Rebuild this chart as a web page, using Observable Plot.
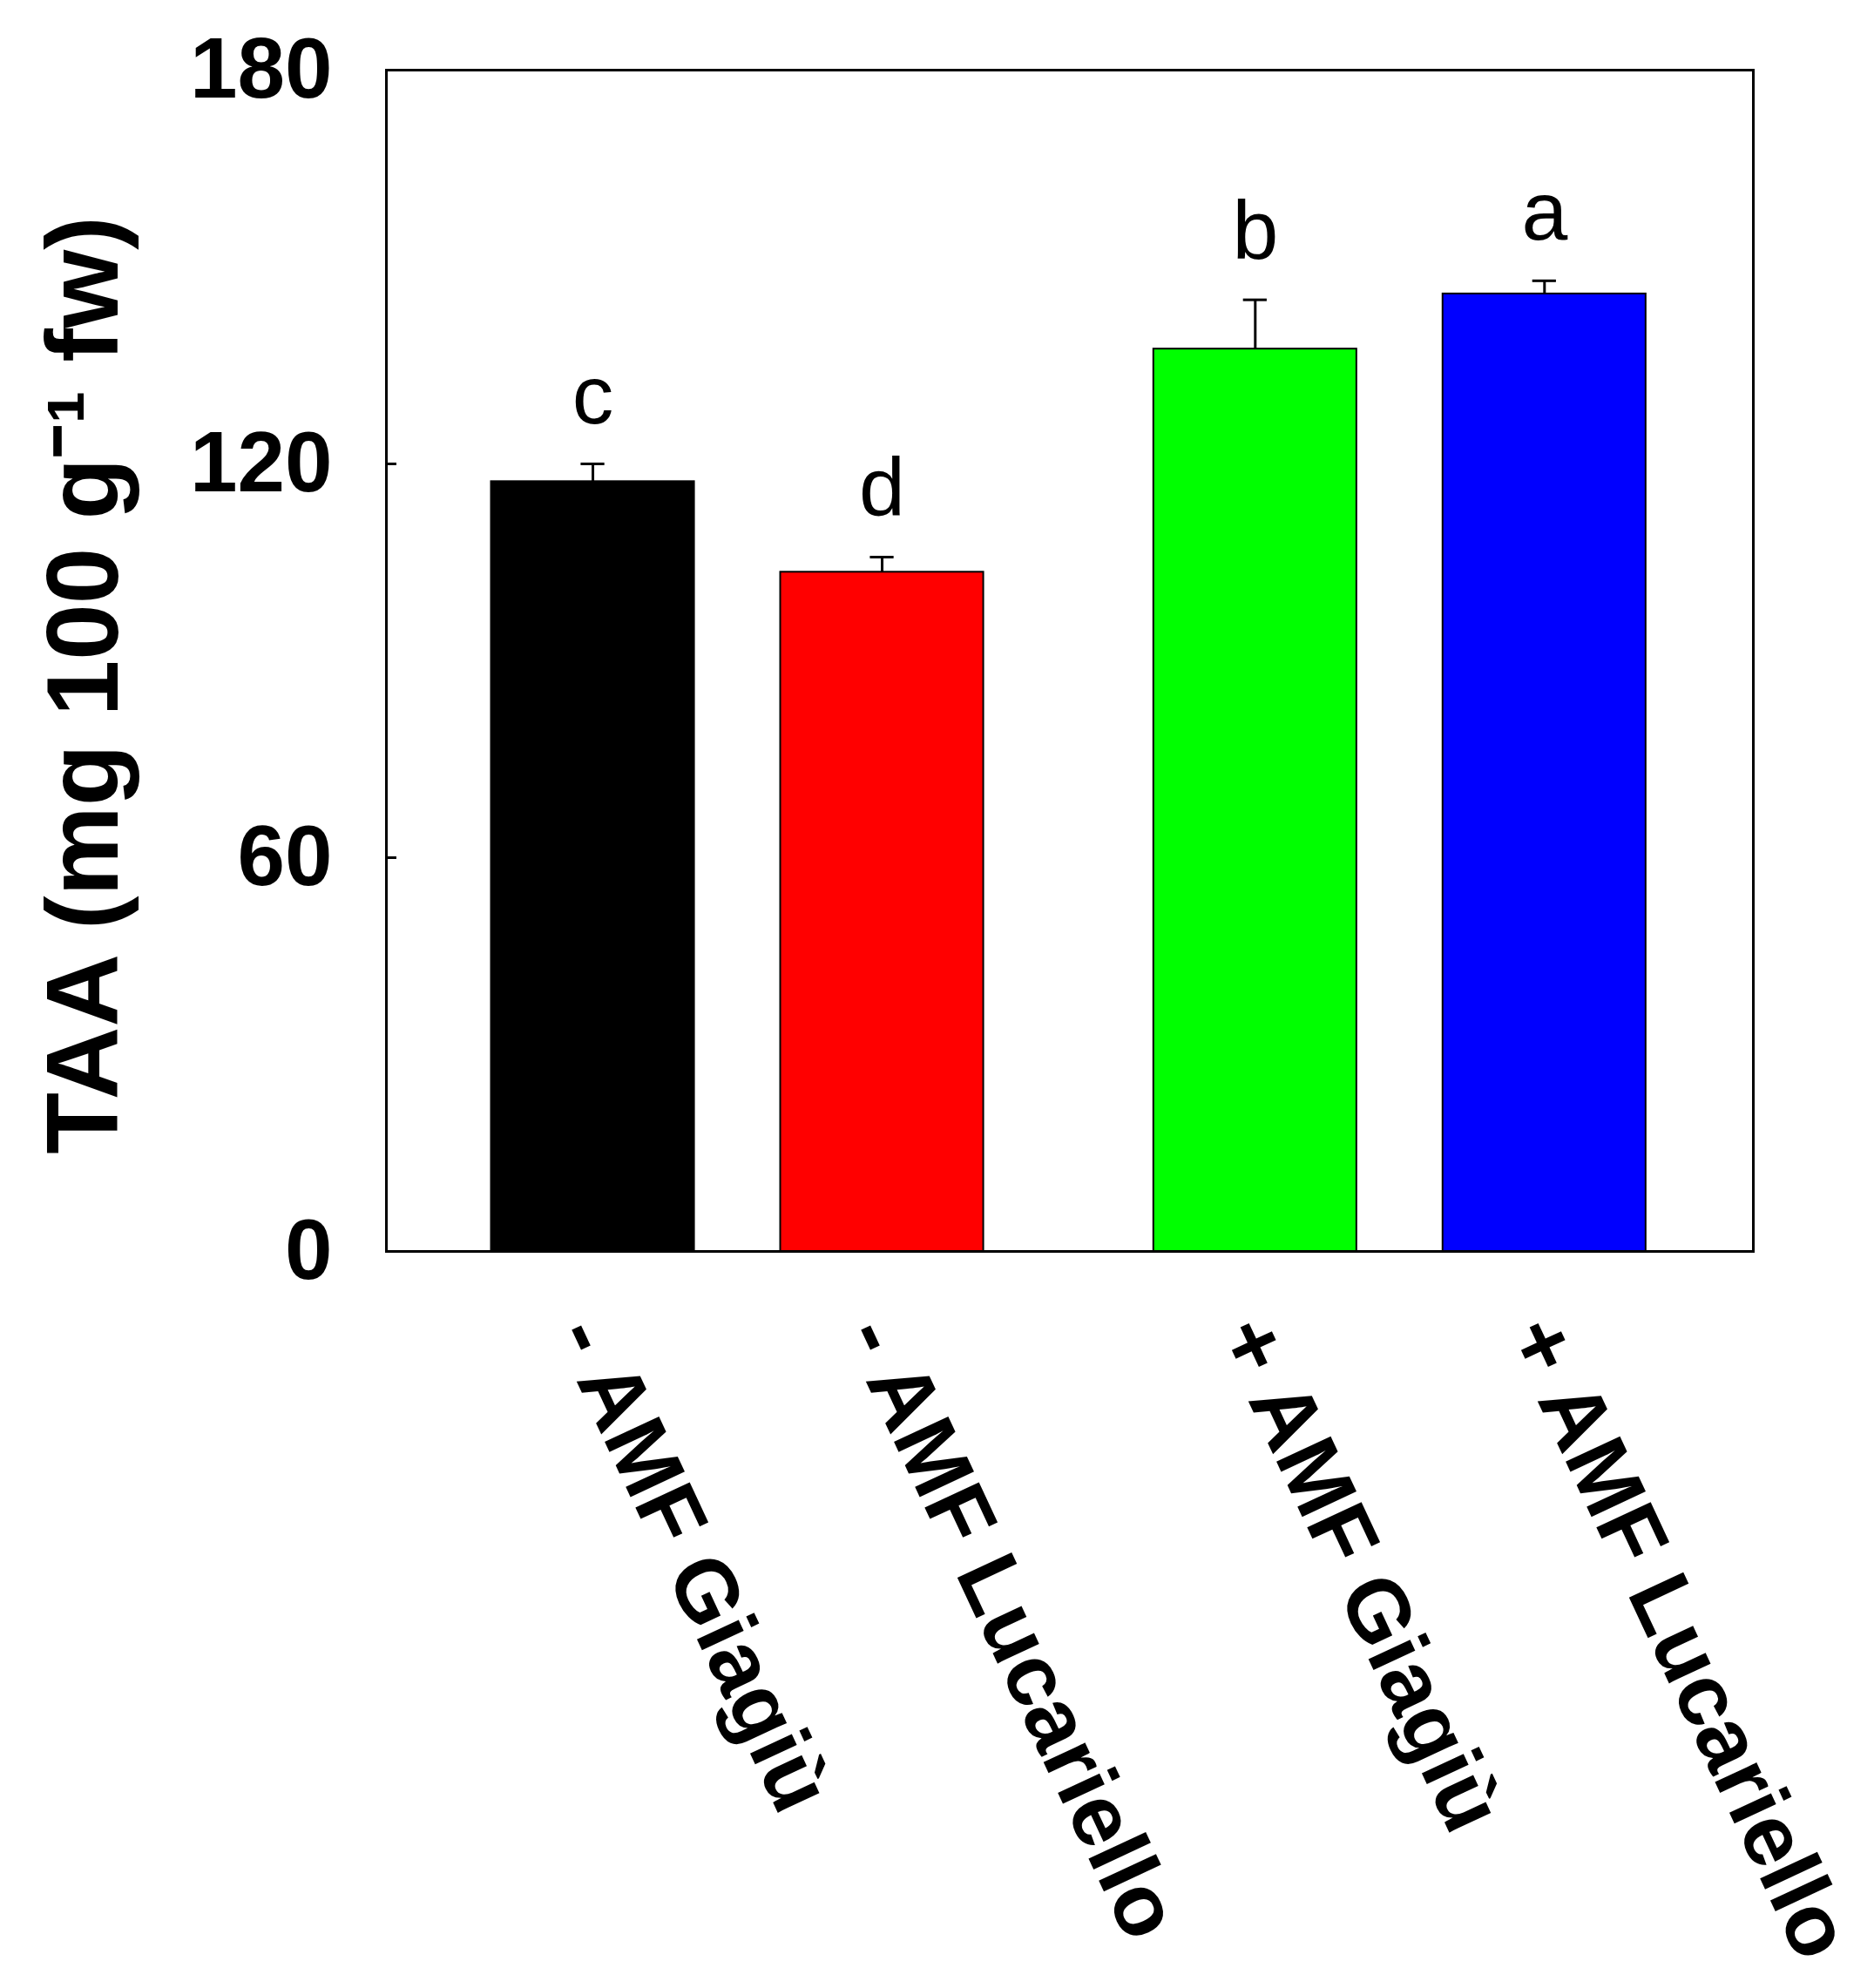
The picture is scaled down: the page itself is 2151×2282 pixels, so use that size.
<!DOCTYPE html>
<html>
<head>
<meta charset="utf-8">
<script src="https://cdn.jsdelivr.net/npm/d3@7"></script>
<script src="https://cdn.jsdelivr.net/npm/@observablehq/plot@0.6"></script>
<style>
  html, body { margin: 0; padding: 0; background: #fff; }
  #chart { width: 2151px; height: 2282px; }
</style>
</head>
<body>
<div id="chart"></div>
<script>
// ---- data ----
const amf = ["- AMF", "- AMF", "+ AMF", "+ AMF"];
const cultivars = ["Giagiù", "Lucariello", "Giagiù", "Lucariello"];
const means = [117.3, 103.5, 137.5, 145.9];
const errors = [2.7, 2.3, 7.5, 2.0];
const letters = ["c", "d", "b", "a"];
const yTicks = [0, 60, 120, 180];
const yTitle = "TAA (mg 100 g\u207B\u00B9 fw)";

// ---- styles ----
const barColors = ["#000000", "#ff0000", "#00ff00", "#0000ff"];
const font = "'Liberation Sans', Arial, Helvetica, sans-serif";

// ---- build table ----
const groupGap = 0.29;      // extra space between the -AMF and +AMF groups
const halfBar = 0.351;      // half bar width in slot units
const halfCap = 0.041;
const groups = Array.from(new Set(amf));
const data = means.map((m, i) => ({
  label: `${amf[i]} ${cultivars[i]}`,
  pos: i + groups.indexOf(amf[i]) * groupGap,
  mean: m,
  top: m + errors[i],
  letter: letters[i]
}));
const labels = data.map(d => d.label);
const xDomain = [-0.714, 4.012];

const chart = Plot.plot({
  width: 2151,
  height: 2282,
  marginLeft: 443,
  marginRight: 139,
  marginTop: 80,
  marginBottom: 846,
  style: { fontFamily: font, background: "#fff", color: "#000" },
  x: { domain: xDomain, axis: null },
  y: { domain: [0, 180], axis: null },
  color: { domain: labels, range: barColors },
  marks: [
    Plot.rectY(data, {
      x1: d => d.pos - halfBar, x2: d => d.pos + halfBar,
      y: "mean", fill: "label", stroke: "#000", strokeWidth: 2
    }),
    Plot.ruleX(data, { x: "pos", y1: "mean", y2: "top", stroke: "#000", strokeWidth: 3 }),
    Plot.ruleY(data, { y: "top", x1: d => d.pos - halfCap, x2: d => d.pos + halfCap, stroke: "#000", strokeWidth: 3 }),
    Plot.text(data, {
      x: "pos", y: "top", text: "letter", dy: -47, lineAnchor: "bottom",
      fontSize: 95, fill: "#000"
    }),
    Plot.text(data, {
      x: "pos", frameAnchor: "bottom", text: "label", rotate: 65,
      textAnchor: "start", lineAnchor: "bottom", dx: -44, dy: 95,
      fontSize: 100, fontWeight: "bold", fill: "#000"
    }),
    Plot.ruleY(yTicks, { y: d => d, x1: xDomain[0], x2: xDomain[0] + 0.036, stroke: "#000", strokeWidth: 3 }),
    Plot.axisY({
      ticks: yTicks, tickSize: 0, tickPadding: 62, label: null,
      fontSize: 98, fontWeight: "bold", tickFormat: d => String(d)
    }),
    Plot.text([yTitle], {
      frameAnchor: "left", text: d => d, rotate: -90, textAnchor: "middle", lineAnchor: "bottom",
      dx: -309, dy: 28, fontSize: 116, fontWeight: "bold", fill: "#000"
    }),
    Plot.frame({ stroke: "#000", strokeWidth: 3 })
  ]
});
document.getElementById("chart").appendChild(chart);
</script>
</body>
</html>
